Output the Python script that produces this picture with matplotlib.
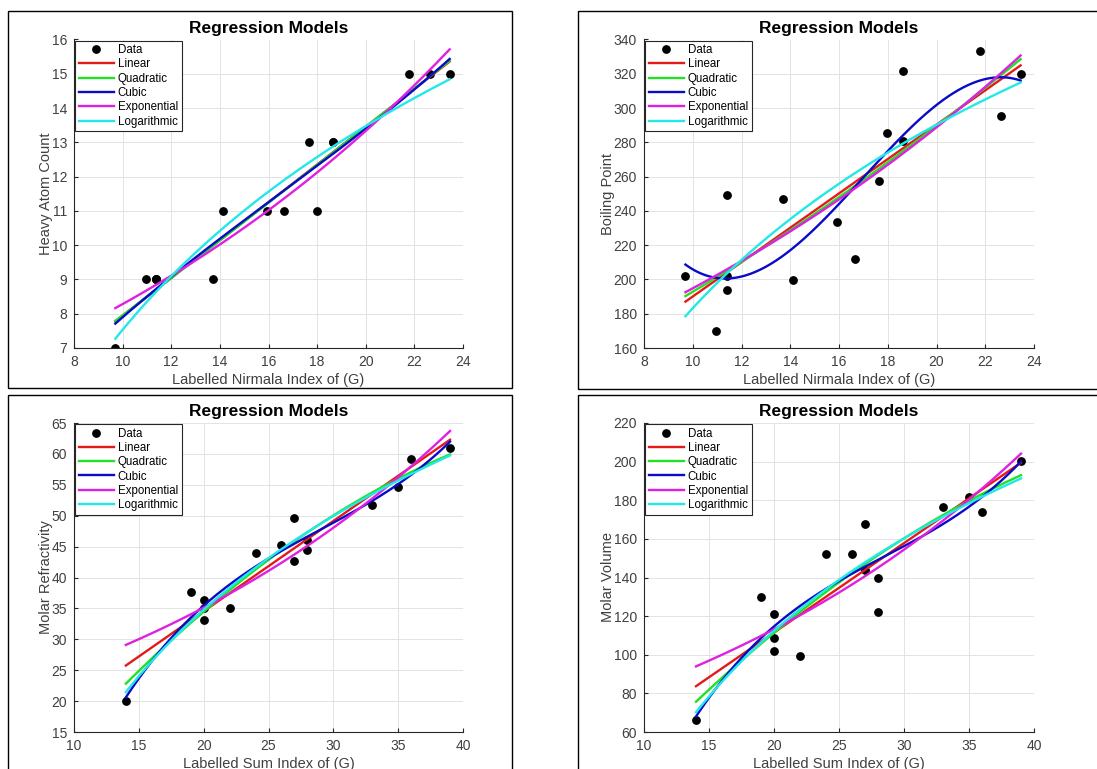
import numpy as np
import matplotlib.pyplot as plt
from matplotlib.patches import Rectangle

plt.rcParams['font.family'] = ['Liberation Sans', 'DejaVu Sans']

# Nirmala index data (top row)
nirmala_x = [9.70, 10.96, 11.39, 11.39, 11.39, 13.72, 14.13, 15.93, 16.64,
             17.65, 17.98, 18.64, 18.64, 21.79, 22.64, 23.45]
heavy_atoms = [7, 9, 9, 9, 9, 9, 11, 11, 11, 13, 11, 13, 13, 15, 15, 15]
boil_x = [9.70, 10.96, 11.39, 11.39, 11.39, 13.72, 14.13, 15.93, 16.64,
          17.65, 17.98, 18.64, 18.64, 21.79, 22.64, 23.45]
boiling_point = [202.1, 169.7, 249.5, 202.0, 194.0, 246.8, 199.8, 233.6, 211.8,
                 257.5, 285.6, 281.0, 321.6, 333.4, 295.3, 319.8]

# Sum index data (bottom row)
sum_x = [14, 19, 20, 20, 20, 22, 24, 26, 27, 27, 28, 28, 33, 35, 36, 39]
molar_refr = [20.0, 37.6, 36.3, 35.0, 33.2, 35.0, 44.0, 45.2, 49.6, 42.7,
              46.0, 44.5, 51.8, 54.6, 59.2, 60.95]
molar_vol = [66.1, 129.9, 121.1, 108.5, 101.9, 99.5, 152.3, 152.3, 167.7,
             143.9, 139.7, 122.0, 176.5, 181.9, 173.9, 200.5]

models = ['Linear', 'Quadratic', 'Cubic', 'Exponential', 'Logarithmic']
colors = {'Linear': '#e41a1a', 'Quadratic': '#22e022', 'Cubic': '#0a0ac8',
          'Exponential': '#e020e0', 'Logarithmic': '#22e8e8'}


def fit_exp(x, y):
    # y = a*exp(b*x), start from log-linear then a few Gauss-Newton steps
    b, lna = np.polyfit(x, np.log(y), 1)
    a = np.exp(lna)
    for _ in range(50):
        e = np.exp(b * x)
        r = y - a * e
        J = np.column_stack([e, a * x * e])
        d, *_ = np.linalg.lstsq(J, r, rcond=None)
        a, b = a + d[0], b + d[1]
    return a, b


def model_curves(x, y):
    x = np.asarray(x, float)
    y = np.asarray(y, float)
    xx = np.linspace(x.min(), x.max(), 200)
    out = {}
    for name, deg in [('Linear', 1), ('Quadratic', 2), ('Cubic', 3)]:
        out[name] = np.polyval(np.polyfit(x, y, deg), xx)
    a, b = fit_exp(x, y)
    out['Exponential'] = a * np.exp(b * xx)
    p = np.polyfit(np.log(x), y, 1)
    out['Logarithmic'] = np.polyval(p, np.log(xx))
    return xx, out


W, H = 1097, 769


def px_axes(fig, left, top, right, bottom):
    return fig.add_axes([left / W, 1 - bottom / H, (right - left) / W, (bottom - top) / H])


panels = [
    # border box, axes box, data, labels, limits, ticks
    ((8, 11, 512, 388), (74, 39.5, 463, 348), nirmala_x, heavy_atoms,
     'Labelled Nirmala Index of (G)', 'Heavy Atom Count', (8, 24), (7, 16),
     np.arange(8, 25, 2), np.arange(7, 17, 1)),
    ((578, 11, 1110, 389), (644, 39.5, 1034, 348), boil_x, boiling_point,
     'Labelled Nirmala Index of (G)', 'Boiling Point', (8, 24), (160, 340),
     np.arange(8, 25, 2), np.arange(160, 341, 20)),
    ((8, 395, 512, 780), (74, 423, 463, 732), sum_x, molar_refr,
     'Labelled Sum Index of (G)', 'Molar Refractivity', (10, 40), (15, 65),
     np.arange(10, 41, 5), np.arange(15, 66, 5)),
    ((578, 395, 1110, 780), (644, 423, 1034, 732), sum_x, molar_vol,
     'Labelled Sum Index of (G)', 'Molar Volume', (10, 40), (60, 220),
     np.arange(10, 41, 5), np.arange(60, 221, 20)),
]

fig = plt.figure(figsize=(W / 100, H / 100), dpi=100)

for border, box, x, y, xl, yl, xlim, ylim, xt, yt in panels:
    bl, bt, br, bb = border
    fig.patches.append(Rectangle((bl / W, 1 - bb / H), (br - bl) / W, (bb - bt) / H,
                                 transform=fig.transFigure, fill=False,
                                 edgecolor='black', lw=1.0))
    ax = px_axes(fig, *box)
    xx, curves = model_curves(x, y)
    ax.plot(x, y, 'o', color='black', ms=5.3, label='Data', zorder=1)
    for m in models:
        ax.plot(xx, curves[m], color=colors[m], lw=1.7, label=m, zorder=2)
    ax.set_xlim(*xlim)
    ax.set_ylim(*ylim)
    ax.set_xticks(xt)
    ax.set_yticks(yt)
    ax.grid(True, color='#e3e3e3', lw=0.7)
    ax.set_axisbelow(True)
    for s in ['top', 'right']:
        ax.spines[s].set_visible(False)
    for s in ['left', 'bottom']:
        ax.spines[s].set_color('#262626')
        ax.spines[s].set_linewidth(0.8)
    ax.tick_params(direction='in', length=3, labelsize=10, colors='#262626',
                   labelcolor='#404040', pad=5)
    ax.set_xlabel(xl, fontsize=10.5, color='#404040', labelpad=3)
    ax.set_ylabel(yl, fontsize=10.5, color='#404040', labelpad=-1)
    ax.set_title('Regression Models', fontsize=12.5, fontweight='bold', pad=5)
    leg = ax.legend(loc='upper left', fontsize=8.3, handlelength=3.1,
                    borderaxespad=0.1, labelspacing=0.2, handletextpad=0.3,
                    borderpad=0.3, fancybox=False, framealpha=1)
    leg.get_frame().set_edgecolor('#262626')
    leg.get_frame().set_linewidth(0.8)

fig.savefig('out.png', dpi=100)
